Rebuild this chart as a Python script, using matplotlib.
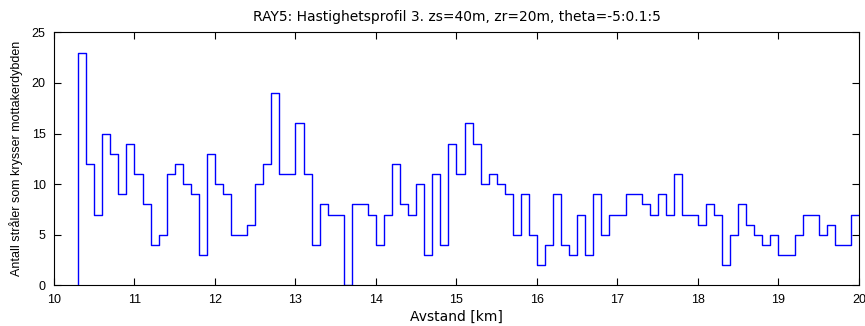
import numpy as np
import matplotlib
matplotlib.use('Agg')
import matplotlib.pyplot as plt

# avstand (km) for hvert trinn, 0.1 km bredde
distance = np.round(np.arange(10.3, 20.0, 0.1), 1)
end_km = 20.0

# antall stråler per trinn
counts = [23, 12, 7, 15, 13, 9, 14, 11, 8, 4, 5, 11, 12, 10, 9, 3, 13, 10, 9, 5, 5, 6, 10,
          12, 19, 11, 11, 16, 11, 4, 8, 7, 7, 0, 8, 8, 7, 4, 7, 12, 8, 7, 10, 3, 11, 4, 14, 11,
          16, 14, 10, 11, 10, 9, 5, 9, 5, 2, 4, 9, 4, 3, 7, 3, 9, 5, 7, 7, 9, 9, 8, 7, 9,
          7, 11, 7, 7, 6, 8, 7, 2, 5, 8, 6, 5, 4, 5, 3, 3, 5, 7, 7, 5, 6, 4, 4, 7]

xticks = list(range(10, 21))
yticks = [0, 5, 10, 15, 20, 25]

plt.rcParams['font.family'] = ['Liberation Sans', 'DejaVu Sans']
plt.rcParams['font.size'] = 9

fig = plt.figure(figsize=(8.65, 3.26), dpi=100)
ax = fig.add_axes([0.0624, 0.1245, 0.9306, 0.7765])

# stairs: start fra null ved forste trinn, hold siste verdi til 20 km
x = np.concatenate([[distance[0]], distance, [end_km]])
y = np.concatenate([[0], counts, [counts[-1]]])
ax.step(x, y, where='post', color='#0000ff', lw=1.0)

ax.set_xlim(10, 20)
ax.set_ylim(0, 25)
ax.set_xticks(xticks)
ax.set_yticks(yticks)
ax.tick_params(direction='in', length=5, width=0.8, top=True, right=True, labelsize=9)
ax.tick_params(axis='x', pad=6)
ax.tick_params(axis='y', pad=6)
for s in ax.spines.values():
    s.set_linewidth(0.8)

wide = ['DejaVu Sans']
ax.set_title('RAY5: Hastighetsprofil 3. zs=40m, zr=20m, theta=-5:0.1:5',
             fontsize=10, family=wide, pad=8)
ax.set_xlabel('Avstand [km]', fontsize=10, family=wide, labelpad=3)
ax.set_ylabel('Antall stråler som krysser mottakerdybden', fontsize=9, labelpad=6)

fig.savefig('out.png', dpi=100)
